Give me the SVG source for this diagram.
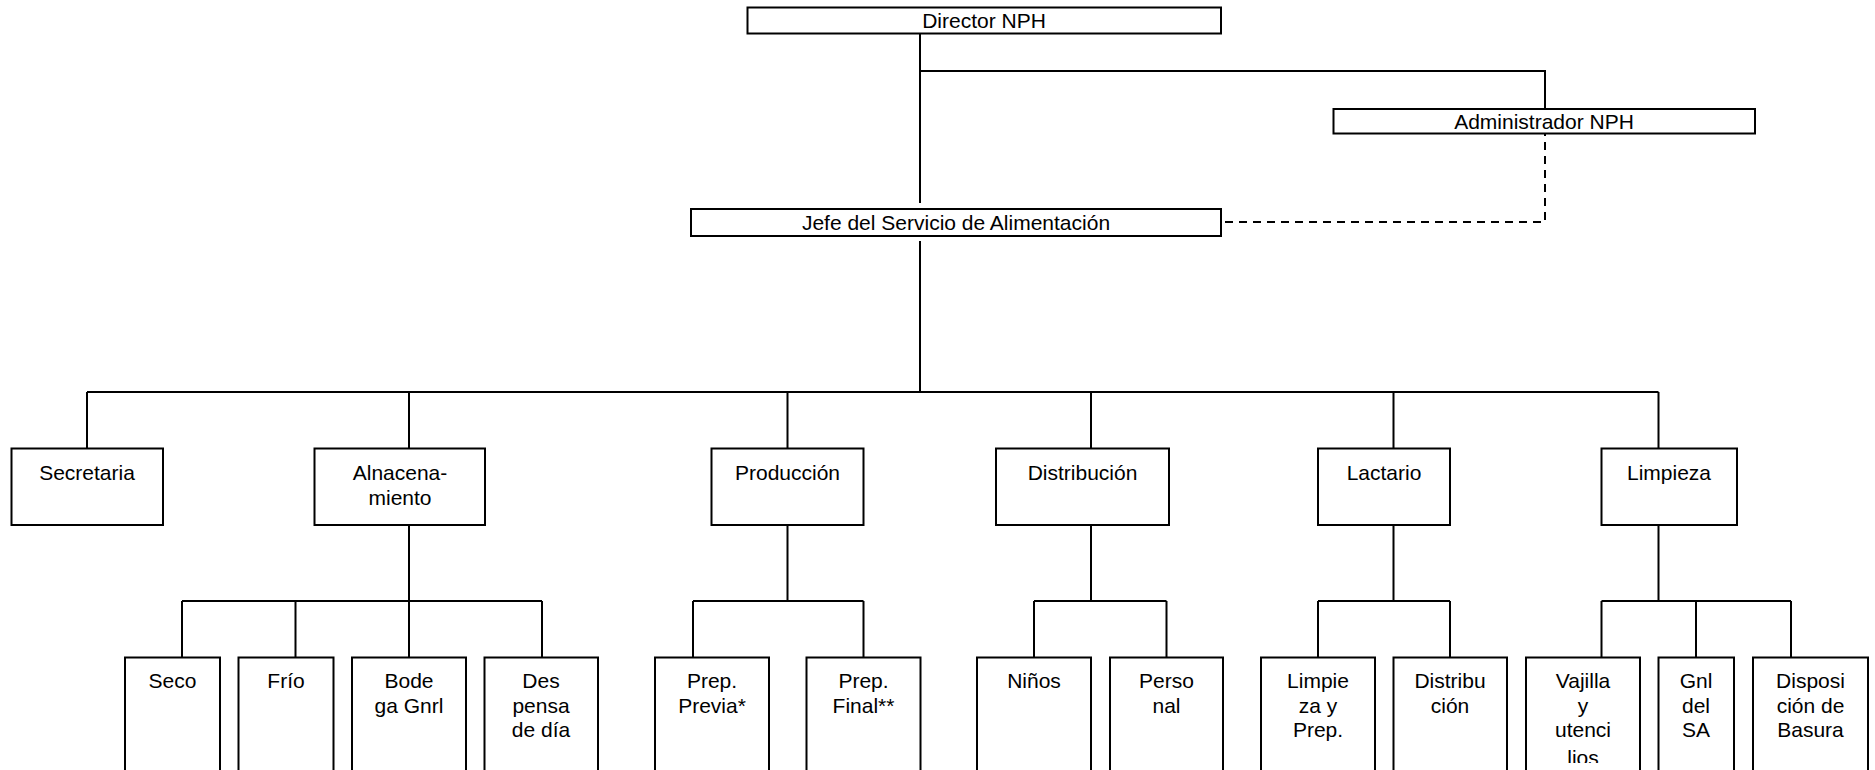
<svg xmlns="http://www.w3.org/2000/svg" width="1875" height="770" viewBox="0 0 1875 770">
<style>
rect.box{fill:#fff;stroke:#000;stroke-width:2}
text{font-family:"Liberation Sans",Arial,sans-serif;font-size:21px;fill:#000;text-anchor:middle}
.ln{fill:none;stroke:#000;stroke-width:2}
.dash{fill:none;stroke:#000;stroke-width:2;stroke-dasharray:8 6}
</style>
<defs>
<clipPath id="clipV"><rect x="1520" y="650" width="130" height="113"/></clipPath>
</defs>
<g id="connectors">
<path class="ln" d="M920,33V203M920,71H1545V109"/>
<path class="dash" d="M1545,128V222H1221"/>
<path class="ln" d="M920,241V392M87,392H1658.5M87,392V448M409,392V448M787.5,392V448M1091,392V448M1393.5,392V448M1658.5,392V448"/>
<path class="ln" d="M409,525V601M182,601H542M182,601V658M295.5,601V658M409,601V658M542,601V658"/>
<path class="ln" d="M787.5,525V601M693,601H863.5M693,601V658M863.5,601V658"/>
<path class="ln" d="M1091,525V601M1034,601H1166.5M1034,601V658M1166.5,601V658"/>
<path class="ln" d="M1393.5,525V601M1318,601H1450M1318,601V658M1450,601V658"/>
<path class="ln" d="M1658.5,525V601M1601.5,601H1791M1601.5,601V658M1696,601V658M1791,601V658"/>
</g>
<g id="director"><rect class="box" x="747.5" y="7.5" width="473.5" height="26"/><text x="984" y="28">Director NPH</text></g>
<g id="administrador"><rect class="box" x="1333.5" y="109" width="421.5" height="24.5"/><text x="1544" y="128.5">Administrador NPH</text></g>
<g id="jefe"><rect class="box" x="691" y="209" width="530" height="27"/><text x="956" y="229.5">Jefe del Servicio de Alimentación</text></g>
<g id="secretaria"><rect class="box" x="11.5" y="448.5" width="151.5" height="76.5"/><text x="87" y="480">Secretaria</text></g>
<g id="almacenamiento"><rect class="box" x="314.5" y="448.5" width="170.5" height="76.5"/><text x="400" y="480">Alnacena-</text><text x="400" y="505">miento</text></g>
<g id="produccion"><rect class="box" x="711.5" y="448.5" width="152" height="76.5"/><text x="787.5" y="480">Producción</text></g>
<g id="distribucion"><rect class="box" x="996" y="448.5" width="173" height="76.5"/><text x="1082.5" y="480">Distribución</text></g>
<g id="lactario"><rect class="box" x="1318" y="448.5" width="132" height="76.5"/><text x="1384" y="480">Lactario</text></g>
<g id="limpieza"><rect class="box" x="1601.5" y="448.5" width="135.5" height="76.5"/><text x="1669" y="480">Limpieza</text></g>
<g id="seco"><rect class="box" x="125" y="657.5" width="95" height="130"/><text x="172.5" y="688">Seco</text></g>
<g id="frio"><rect class="box" x="238.5" y="657.5" width="95" height="130"/><text x="286" y="688">Frío</text></g>
<g id="bodega"><rect class="box" x="352" y="657.5" width="114" height="130"/><text x="409" y="688">Bode</text><text x="409" y="712.5">ga Gnrl</text></g>
<g id="despensa"><rect class="box" x="484.5" y="657.5" width="113.5" height="130"/><text x="541" y="688">Des</text><text x="541" y="712.5">pensa</text><text x="541" y="737">de día</text></g>
<g id="prep-previa"><rect class="box" x="655" y="657.5" width="114" height="130"/><text x="712" y="688">Prep.</text><text x="712" y="712.5">Previa*</text></g>
<g id="prep-final"><rect class="box" x="806.5" y="657.5" width="114" height="130"/><text x="863.5" y="688">Prep.</text><text x="863.5" y="712.5">Final**</text></g>
<g id="ninos"><rect class="box" x="977" y="657.5" width="114" height="130"/><text x="1034" y="688">Niños</text></g>
<g id="personal"><rect class="box" x="1110" y="657.5" width="113" height="130"/><text x="1166.5" y="688">Perso</text><text x="1166.5" y="712.5">nal</text></g>
<g id="limpieza-prep"><rect class="box" x="1261" y="657.5" width="114" height="130"/><text x="1318" y="688">Limpie</text><text x="1318" y="712.5">za y</text><text x="1318" y="737">Prep.</text></g>
<g id="distribucion-lact"><rect class="box" x="1393.5" y="657.5" width="113.5" height="130"/><text x="1450" y="688">Distribu</text><text x="1450" y="712.5">ción</text></g>
<g id="vajilla"><rect class="box" x="1526" y="657.5" width="114" height="130"/><g clip-path="url(#clipV)"><text x="1583" y="688">Vajilla</text><text x="1583" y="712.5">y</text><text x="1583" y="737">utenci</text><text x="1583" y="765">lios</text></g></g>
<g id="gnl"><rect class="box" x="1658.5" y="657.5" width="75.5" height="130"/><text x="1696" y="688">Gnl</text><text x="1696" y="712.5">del</text><text x="1696" y="737">SA</text></g>
<g id="disposicion"><rect class="box" x="1753" y="657.5" width="115" height="130"/><text x="1810.5" y="688">Disposi</text><text x="1810.5" y="712.5">ción de</text><text x="1810.5" y="737">Basura</text></g>
</svg>
